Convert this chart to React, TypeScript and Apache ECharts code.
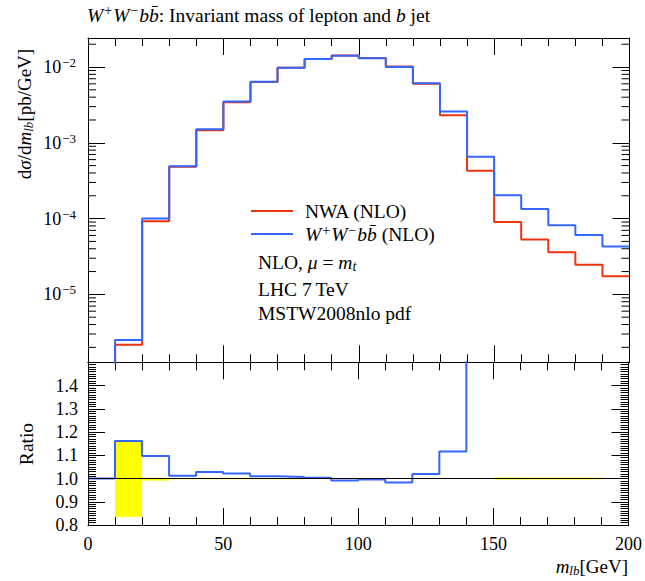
import React, { useEffect, useRef } from "react";
import * as echarts from "echarts";

// ---------- data ----------
const binLow = [10, 20, 30, 40, 50, 60, 70, 80, 90, 100, 110, 120, 130, 140, 150, 160, 170, 180, 190];
const BIN_WIDTH = 10;
const nwaValues = [
  2.16e-6, 9.2e-5, 4.83e-4, 1.47e-3, 3.42e-3, 6.35e-3, 9.75e-3, 1.276e-2, 1.42e-2, 1.315e-2,
  1.015e-2, 6.0e-3, 2.31e-3, 4.28e-4, 9.0e-5, 5.3e-5, 3.6e-5, 2.46e-5, 1.74e-5,
];
const wwbbValues = [
  2.5e-6, 1.0e-4, 4.89e-4, 1.51e-3, 3.5e-3, 6.41e-3, 9.8e-3, 1.28e-2, 1.41e-2, 1.31e-2,
  1.0e-2, 6.12e-3, 2.58e-3, 6.55e-4, 2.03e-4, 1.34e-4, 8.17e-5, 6.09e-5, 4.28e-5,
];
const ratioBinLow = [0, 10, 20, 30, 40, 50, 60, 70, 80, 90, 100, 110, 120, 130, 140, 150, 160, 170, 180, 190];
const ratioValues = [
  1.0, 1.161, 1.097, 1.012, 1.028, 1.022, 1.01, 1.007, 1.003, 0.991,
  0.996, 0.983, 1.019, 1.116, 1.53, 2.25, 2.53, 2.27, 2.48, 2.46,
];
const bandLow = [
  0.835, 0.991, 0.997, 0.997, 0.997, 0.997, 0.997, 0.998, 0.998, 0.998,
  0.998, 0.998, 0.998, 0.998, 0.996, 0.996, 0.996, 0.996, 0.998,
];
const bandHigh = [
  1.158, 1.003, 1.003, 1.003, 1.003, 1.003, 1.003, 1.002, 1.002, 1.002,
  1.002, 1.002, 1.002, 1.002, 1.004, 1.004, 1.004, 1.004, 1.002,
];
const logDecades = [-6, -5, -4, -3, -2];
const minorMultipliers = [2, 3, 4, 5, 6, 7, 8, 9];

const X_MIN = 0;
const X_MAX = 200;
const Y_LOG_MIN = 1.27e-6;
const Y_LOG_MAX = 0.02415;
const RATIO_MIN = 0.8;
const RATIO_MAX = 1.5;
const RATIO_REF = 1.0;

// ---------- style ----------
const FONT = "'Liberation Serif', 'DejaVu Serif', serif";
const RED = "#EE3311";
const BLUE = "#3366FF";

function richSet(size: number, lh: number) {
  const sup = Math.round(size * 0.7);
  return {
    r: { fontFamily: FONT, fontSize: size, fontWeight: "normal", lineHeight: lh, color: "#000" },
    i: { fontFamily: FONT, fontSize: size, fontWeight: "normal", fontStyle: "italic", lineHeight: lh, color: "#000" },
    s: {
      fontFamily: FONT, fontSize: sup, fontWeight: "normal", lineHeight: Math.round(lh * 0.6),
      verticalAlign: "top", color: "#000", padding: [0, 1, 0, 1],
    },
    b: {
      fontFamily: FONT, fontSize: sup, fontWeight: "normal", fontStyle: "italic", lineHeight: Math.round(lh * 0.55),
      verticalAlign: "bottom", color: "#000",
    },
  };
}

function stepPoints(lows: number[], vals: number[], start?: number) {
  const pts: number[][] = [];
  if (start !== undefined) pts.push([lows[0], start]);
  lows.forEach((lo, i) => {
    pts.push([lo, vals[i]]);
    pts.push([lo + BIN_WIDTH, vals[i]]);
  });
  return pts;
}

const tickLine = { color: "#000", width: 1 };

function xAxisCfg(gridIndex: number, position: string, labels: boolean) {
  return {
    type: "value",
    gridIndex,
    position,
    min: X_MIN,
    max: X_MAX,
    interval: 50,
    axisLine: { show: true, onZero: false, lineStyle: tickLine },
    axisTick: { show: true, inside: true, length: 17, lineStyle: tickLine },
    minorTick: { show: true, splitNumber: 5, length: 8, lineStyle: tickLine },
    splitLine: { show: false },
    minorSplitLine: { show: false },
    axisLabel: labels
      ? { show: true, margin: 10, fontFamily: FONT, fontSize: 18, color: "#000" }
      : { show: false },
  };
}

function logAxisCfg(position: string, labels: boolean) {
  return {
    type: "log",
    logBase: 10,
    gridIndex: 0,
    position,
    min: Y_LOG_MIN,
    max: Y_LOG_MAX,
    axisLine: { show: true, onZero: false, lineStyle: tickLine },
    axisTick: { show: true, inside: true, length: 17, lineStyle: tickLine },
    minorTick: { show: false },
    splitLine: { show: false },
    axisLabel: labels
      ? {
          show: true,
          margin: 11,
          showMinLabel: false,
          showMaxLabel: false,
          formatter: (v: number) => {
            const e = Math.round(Math.log10(v));
            return `{r|10}{s|\u2212${-e}}`;
          },
          rich: richSet(18, 22),
        }
      : { show: false },
  };
}

function ratioAxisCfg(position: string, labels: boolean) {
  return {
    type: "value",
    gridIndex: 1,
    position,
    min: RATIO_MIN,
    max: RATIO_MAX,
    interval: 0.1,
    axisLine: { show: true, onZero: false, lineStyle: tickLine },
    axisTick: { show: true, inside: true, length: 17, lineStyle: tickLine },
    minorTick: { show: true, splitNumber: 10, length: 8, lineStyle: tickLine },
    splitLine: { show: false },
    minorSplitLine: { show: false },
    axisLabel: labels
      ? {
          show: true,
          margin: 10,
          showMaxLabel: false,
          fontFamily: FONT,
          fontSize: 18,
          color: "#000",
          formatter: (v: number) => v.toFixed(1),
        }
      : { show: false },
  };
}

export default function App() {
  const ref = useRef<HTMLDivElement>(null);

  useEffect(() => {
    if (!ref.current) return;
    const chart = echarts.init(ref.current, null, { renderer: "svg" });

    const logMinor: number[][] = [];
    logDecades.forEach((d) => {
      minorMultipliers.forEach((k) => {
        const v = k * Math.pow(10, d);
        if (v > Y_LOG_MIN && v < Y_LOG_MAX) logMinor.push([X_MIN, v]);
      });
    });

    const bandData = binLow.map((lo, i) => [lo, lo + BIN_WIDTH, bandLow[i], bandHigh[i]]);

    const option: any = {
      animation: false,
      backgroundColor: "#fff",
      title: {
        text: "{i|W}{s|+}{i|W}{s|\u2212}{i|b}{i|b\u0304}{r|: Invariant mass of lepton and }{i|b}{r| jet}",
        left: 87,
        top: 3,
        padding: 0,
        textStyle: { fontWeight: "normal", rich: richSet(19.5, 24) },
      },
      legend: {
        orient: "vertical",
        left: 251,
        top: 201,
        itemWidth: 42,
        itemHeight: 2,
        itemGap: 2,
        icon: "rect",
        padding: 0,
        data: ["NWA (NLO)", "WWbb (NLO)"],
        formatter: (name: string) =>
          name === "NWA (NLO)"
            ? "{g|}{r|NWA (NLO)}"
            : "{g|}{i|W}{s|+}{i|W}{s|\u2212}{i|b}{i|b\u0304}{r| (NLO)}",
        textStyle: { rich: { ...richSet(19.5, 22), g: { width: 7, lineHeight: 22 } } },
      },
      grid: [
        { left: 88, top: 38, width: 541.5, height: 324.3 },
        { left: 88, top: 362.3, width: 541.5, height: 162.7 },
      ],
      xAxis: [
        xAxisCfg(0, "bottom", false),
        xAxisCfg(0, "top", false),
        xAxisCfg(1, "bottom", true),
        xAxisCfg(1, "top", false),
      ],
      yAxis: [logAxisCfg("left", true), logAxisCfg("right", false), ratioAxisCfg("left", true), ratioAxisCfg("right", false)],
      graphic: [
        {
          type: "text",
          x: 24,
          y: 114,
          rotation: Math.PI / 2,
          style: {
            text: "{r|d}{i|\u03c3}{r|/d}{i|m}{b|lb}{r|[pb/GeV]}",
            rich: richSet(19, 22),
            align: "center",
            verticalAlign: "middle",
          },
        },
        {
          type: "text",
          x: 26,
          y: 444,
          rotation: Math.PI / 2,
          style: { text: "{r|Ratio}", rich: richSet(19.5, 22), align: "center", verticalAlign: "middle" },
        },
        {
          type: "text",
          x: 628,
          y: 566,
          style: { text: "{i|m}{b|lb}{r|[GeV]}", rich: richSet(19, 22), align: "right", verticalAlign: "middle" },
        },
        {
          type: "text",
          x: 258,
          y: 262,
          style: { text: "{r|NLO, }{i|\u03bc}{r| = }{i|m}{b|t}", rich: richSet(19.5, 22), align: "left", verticalAlign: "middle" },
        },
        {
          type: "text",
          x: 258,
          y: 289,
          style: { text: "{r|LHC 7\u2009TeV}", rich: richSet(19.5, 22), align: "left", verticalAlign: "middle" },
        },
        {
          type: "text",
          x: 258,
          y: 313,
          style: { text: "{r|MSTW2008nlo pdf}", rich: richSet(19.5, 22), align: "left", verticalAlign: "middle" },
        },
      ],
      series: [
        {
          type: "custom",
          name: "logMinorTicks",
          xAxisIndex: 0,
          yAxisIndex: 0,
          silent: true,
          z: 5,
          data: logMinor,
          renderItem: (_p: any, api: any) => {
            const v = api.value(1);
            const l = api.coord([X_MIN, v]);
            const r = api.coord([X_MAX, v]);
            return {
              type: "group",
              children: [
                { type: "line", shape: { x1: l[0], y1: l[1], x2: l[0] + 8, y2: l[1] }, style: { stroke: "#000", lineWidth: 1 } },
                { type: "line", shape: { x1: r[0] - 8, y1: r[1], x2: r[0], y2: r[1] }, style: { stroke: "#000", lineWidth: 1 } },
              ],
            };
          },
        },
        {
          type: "line",
          name: "NWA (NLO)",
          xAxisIndex: 0,
          yAxisIndex: 0,
          color: RED,
          symbol: "none",
          lineStyle: { color: RED, width: 2 },
          data: stepPoints(binLow, nwaValues, Y_LOG_MIN / 10),
          clip: true,
          z: 3,
        },
        {
          type: "line",
          name: "WWbb (NLO)",
          xAxisIndex: 0,
          yAxisIndex: 0,
          color: BLUE,
          symbol: "none",
          lineStyle: { color: BLUE, width: 2 },
          data: stepPoints(binLow, wwbbValues, Y_LOG_MIN / 10),
          clip: true,
          z: 4,
        },
        {
          type: "custom",
          name: "band",
          xAxisIndex: 2,
          yAxisIndex: 2,
          silent: true,
          z: 1,
          data: bandData,
          renderItem: (_p: any, api: any) => {
            const p1 = api.coord([api.value(0), api.value(3)]);
            const p2 = api.coord([api.value(1), api.value(2)]);
            return {
              type: "rect",
              shape: { x: p1[0], y: p1[1], width: p2[0] - p1[0], height: p2[1] - p1[1] },
              style: { fill: "#ffff00" },
            };
          },
        },
        {
          type: "line",
          name: "ratio",
          xAxisIndex: 2,
          yAxisIndex: 2,
          color: BLUE,
          symbol: "none",
          lineStyle: { color: BLUE, width: 2 },
          data: stepPoints(ratioBinLow, ratioValues),
          clip: true,
          z: 3,
          markLine: {
            silent: true,
            symbol: "none",
            label: { show: false },
            lineStyle: { color: "#000", width: 1, type: "solid" },
            data: [{ yAxis: RATIO_REF }],
          },
        },
      ],
    };

    chart.setOption(option);
    return () => chart.dispose();
  }, []);

  return (
    <div
      ref={ref}
      style={{ position: "absolute", left: 0, top: 0, width: 645, height: 581, background: "#fff" }}
    />
  );
}
